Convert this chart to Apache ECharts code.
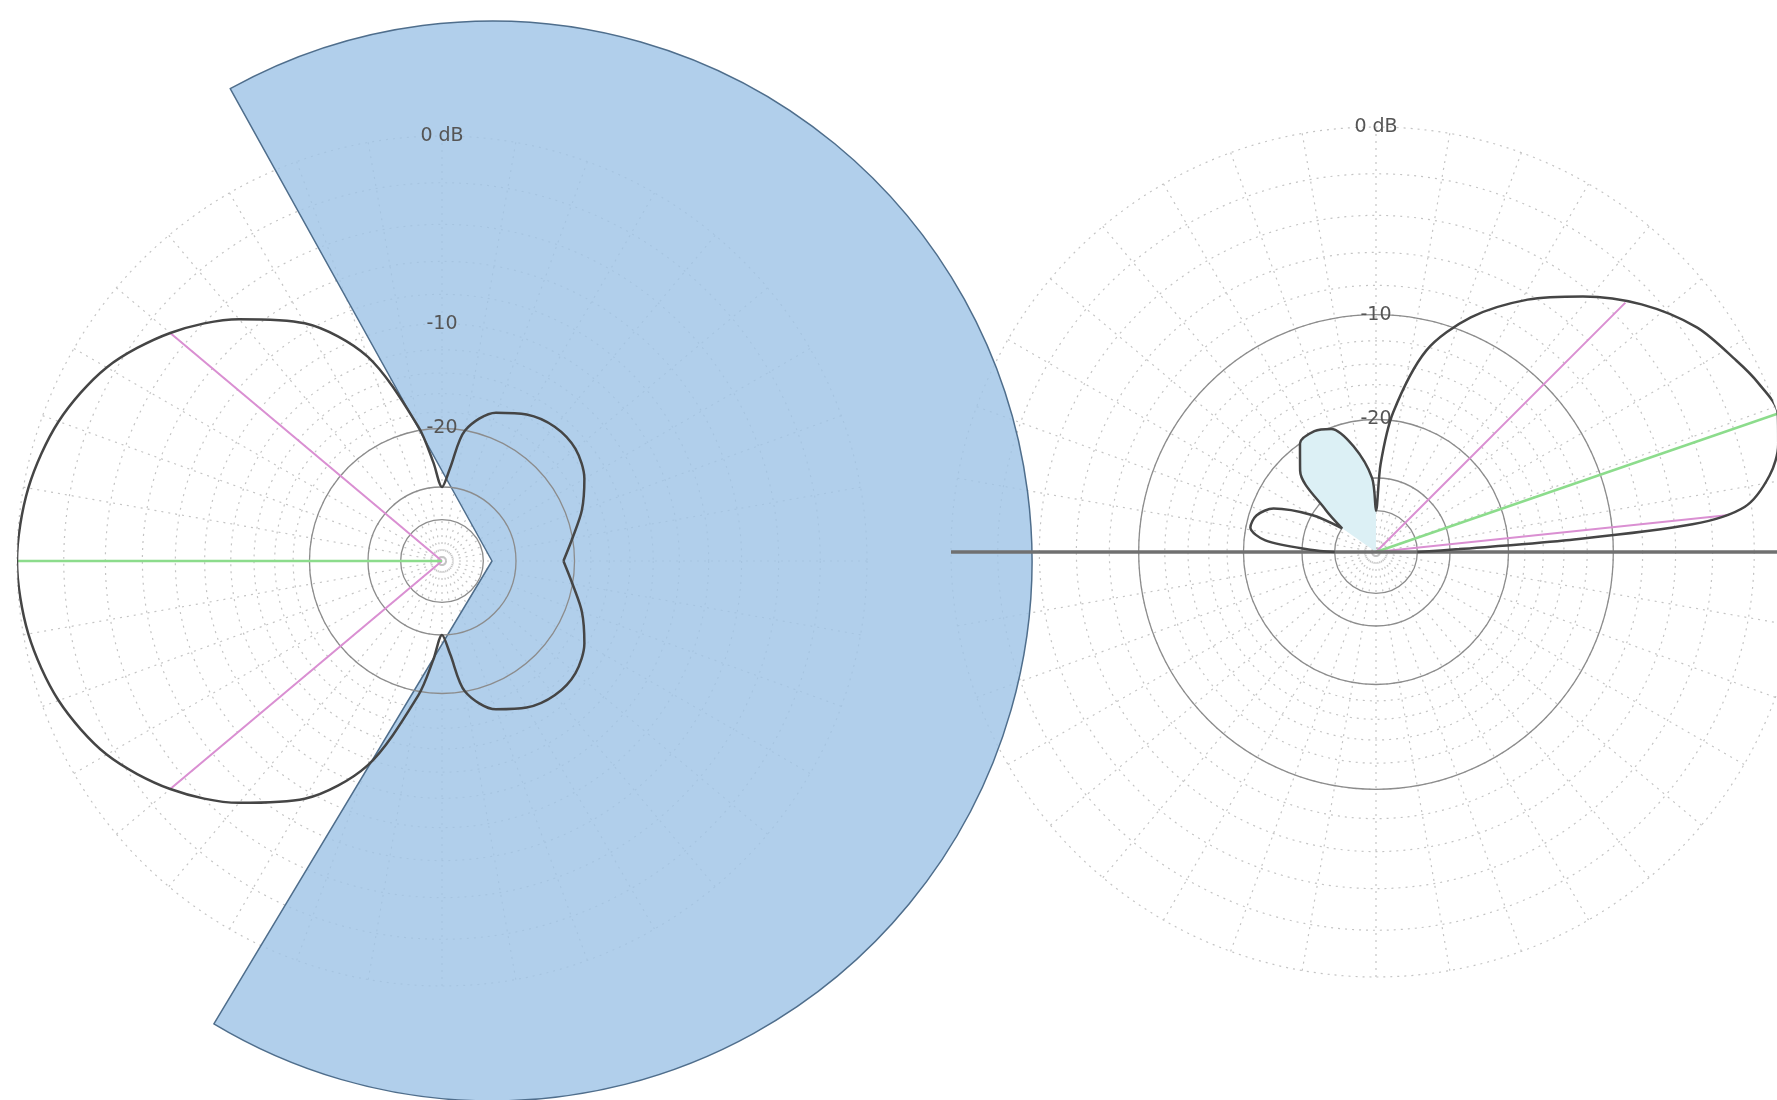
<!DOCTYPE html>
<html>
<head>
<meta charset="utf-8">
<script src="https://cdn.jsdelivr.net/npm/echarts@6/dist/echarts.min.js"></script>
<style>
  html, body { margin: 0; padding: 0; background: #fff; }
  #container { width: 1777px; height: 1100px; }
</style>
</head>
<body>
<div id="container"></div>
<script>
var dom = document.getElementById('container');
var myChart = echarts.init(dom, null, { renderer: 'canvas' });

// ARRL log-periodic scale: radius shrinks by 0.89 every 2 dB
var ARRL_STEP = 0.89;
function arrl(db) { return Math.pow(ARRL_STEP, -db / 2); }
function toDb(r) { return Math.round(-2 * Math.log(r) / Math.log(ARRL_STEP)); }

// grid rings in dB
var dottedRings = [0, -2, -4, -6, -8, -10, -12, -14, -16, -18, -20];
var leftSolidRings = [-20, -30, -40];
var rightSolidRings = [-10, -20, -30, -40];
var ringLabels = [0, -10, -20];

// left plot (azimuth), angles in degrees counter-clockwise from east
var leftAngles = [0, 10, 20, 30, 40, 50, 60, 70, 80, 85, 90, 95, 100, 110, 120, 130, 140, 150, 160, 170,
                  180, 190, 200, 210, 220, 230, 240, 250, 260, 265, 270, 275, 280, 290, 300, 310, 320, 330, 340, 350, 360];
var leftDb = [-21.5, -20, -18, -16.3, -15.3, -15.2, -15.8, -17, -20, -26, -30, -25, -19.5, -11.5, -7.5, -5.1, -3.1, -1.6, -0.7, -0.2,
              0, -0.2, -0.7, -1.6, -3.1, -5.1, -7.5, -11.5, -19.5, -25, -30, -26, -20, -17, -15.8, -15.2, -15.3, -16.3, -18, -20, -21.5];
var leftBeamAngles = [140, 220];
var leftBeamDb = -3.1;
var leftPeakAngle = 180;
var leftPeakDb = 0;

// shaded sector behind the left plot
var sectorStart = 119;
var sectorSpan = 240;

// right plot (elevation)
var rightAngles = [0, 2, 3.5, 5, 7, 11, 15, 19, 24, 28, 35, 43, 51, 59, 68, 76, 83, 87, 90,
                   93, 102, 110, 117, 125, 133, 140, 145, 150, 157, 163, 169, 174, 178, 180];
var rightDb = [-40, -28, -14, -5, -2.3, -1.0, -0.35, 0, -0.3, -0.7, -1.4, -2.7, -4.4, -6.3, -8.9, -12.3, -19, -27, -40,
               -30, -23.5, -20.2, -19.6, -20, -23, -32, -40, -30, -23, -21, -20.6, -23, -32, -40];
var rightLobeFrom = 90;   // shaded back lobe range
var rightLobeTo = 145;
var rightBeamAngles = [45, 6];
var rightBeamDb = -3.2;
var rightPeakAngle = 19;
var rightPeakDb = 0;
var groundAngles = [180, 0];
var groundDb = 0;

function pts(angles, dbs) {
  return angles.map(function (a, i) { return [arrl(dbs[i]), a]; });
}
function ray(angle, db) {
  return [[0, angle], [arrl(db), angle]];
}

var dotStyle = { color: '#c4c4c4', type: [2, 5], width: 1.2 };

function gridAngle(pi) {
  return {
    polarIndex: pi, type: 'value', min: 0, max: 360, interval: 10,
    startAngle: 0, clockwise: false, z: 0,
    axisLine: { show: false }, axisTick: { show: false }, axisLabel: { show: false },
    splitLine: { show: true, lineStyle: dotStyle }
  };
}
function ringAngle(pi) {
  return {
    polarIndex: pi, type: 'value', min: 0, max: 360,
    startAngle: 90, clockwise: false, z: 2,
    axisLine: { show: false }, axisTick: { show: false }, axisLabel: { show: false },
    splitLine: { show: false }
  };
}
function gridRadius(pi) {
  return {
    polarIndex: pi, type: 'value', min: 0, max: 1, z: 0,
    axisLine: { show: false },
    axisTick: { show: false, customValues: dottedRings.map(arrl) },
    axisLabel: { show: false },
    splitLine: { show: true, lineStyle: dotStyle }
  };
}
function ringRadius(pi, rings) {
  return {
    polarIndex: pi, type: 'value', min: 0, max: 1, z: 2,
    axisLine: { show: false },
    axisTick: { show: false, customValues: rings.map(arrl) },
    axisLabel: {
      show: true,
      customValues: ringLabels.map(arrl),
      formatter: function (v) { var d = toDb(v); return d === 0 ? '0 dB' : String(d); },
      margin: 0, align: 'center', verticalAlign: 'middle',
      color: '#555', fontSize: 19, fontFamily: 'DejaVu Sans'
    },
    splitLine: { show: true, lineStyle: { color: '#8c8c8c', width: 1.3 } }
  };
}

function lineSeries(pi, data, color, width, z) {
  return {
    type: 'line', coordinateSystem: 'polar', polarIndex: pi,
    data: data, showSymbol: false, silent: true, z: z,
    lineStyle: { color: color, width: width }
  };
}

var lobeIdx = rightAngles.map(function (a, i) { return i; })
  .filter(function (i) { return rightAngles[i] >= rightLobeFrom && rightAngles[i] <= rightLobeTo; });
var lobeAngles = lobeIdx.map(function (i) { return rightAngles[i]; });
var lobeDb = lobeIdx.map(function (i) { return rightDb[i]; });

var series = [
  {
    type: 'pie', z: 1, silent: true,
    center: [492, 561], radius: 540,
    startAngle: sectorStart, clockwise: true,
    label: { show: false }, labelLine: { show: false },
    emphasis: { disabled: true },
    data: [
      { value: sectorSpan, itemStyle: { color: 'rgba(160,197,230,0.82)', borderColor: '#4f6e8c', borderWidth: 1.5 } },
      { value: 360 - sectorSpan, itemStyle: { color: 'rgba(0,0,0,0)', borderWidth: 0 } }
    ]
  }
];

// left
leftBeamAngles.forEach(function (a) { series.push(lineSeries(0, ray(a, leftBeamDb), '#da8fd2', 2, 3)); });
series.push(lineSeries(0, ray(leftPeakAngle, leftPeakDb), '#8cdc8c', 2.5, 3));
var lp = lineSeries(0, pts(leftAngles, leftDb), '#454545', 2.5, 5);
lp.smooth = 0.3;
series.push(lp);

// right
var fill = lineSeries(2, pts(lobeAngles, lobeDb), '#454545', 0, 3);
fill.smooth = 0.3;
fill.areaStyle = { color: '#dcf0f5', opacity: 1, origin: 'start' };
series.push(fill);
rightBeamAngles.forEach(function (a) { series.push(lineSeries(2, ray(a, rightBeamDb), '#da8fd2', 2, 3)); });
series.push(lineSeries(2, ray(rightPeakAngle, rightPeakDb), '#8cdc8c', 2.5, 3));
series.push(lineSeries(2, groundAngles.map(function (a) { return [arrl(groundDb), a]; }), '#707070', 3.5, 4));
var rp = lineSeries(2, pts(rightAngles, rightDb), '#454545', 2.5, 5);
rp.smooth = 0.3;
series.push(rp);

var option = {
  backgroundColor: '#ffffff',
  animation: false,
  polar: [
    { center: [442, 561], radius: 425 },
    { center: [442, 561], radius: 425 },
    { center: [1376, 552], radius: 425 },
    { center: [1376, 552], radius: 425 }
  ],
  angleAxis: [gridAngle(0), ringAngle(1), gridAngle(2), ringAngle(3)],
  radiusAxis: [gridRadius(0), ringRadius(1, leftSolidRings), gridRadius(2), ringRadius(3, rightSolidRings)],
  series: series
};

myChart.setOption(option);
window.addEventListener('resize', myChart.resize);
</script>
</body>
</html>
